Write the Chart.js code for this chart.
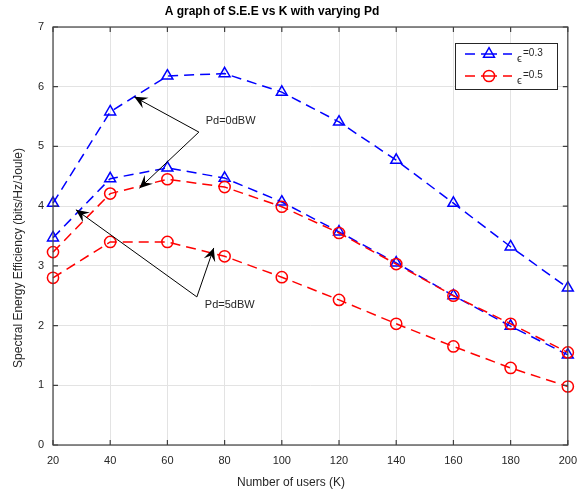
<!DOCTYPE html>
<html>
<head>
<meta charset="utf-8">
<script src="https://cdn.jsdelivr.net/npm/chart.js@4.4.1/dist/chart.umd.min.js"></script>
<style>
  html, body { margin: 0; padding: 0; background: #fff; }
  canvas { display: block; }
</style>
</head>
<body>
<canvas id="seeChart" width="586" height="493"></canvas>
<script>
// Number of users K
const kValues = [20, 40, 60, 80, 100, 120, 140, 160, 180, 200];

// Spectral energy efficiency
const seeEps03Pd0 = [4.05, 5.58, 6.18, 6.22, 5.91, 5.41, 4.77, 4.05, 3.32, 2.63];
const seeEps03Pd5 = [3.47, 4.46, 4.64, 4.47, 4.07, 3.57, 3.05, 2.50, 1.99, 1.51];
const seeEps05Pd0 = [3.23, 4.21, 4.45, 4.32, 3.99, 3.55, 3.03, 2.50, 2.03, 1.55];
const seeEps05Pd5 = [2.80, 3.40, 3.40, 3.16, 2.81, 2.43, 2.03, 1.65, 1.29, 0.98];

const xTicks = [20, 40, 60, 80, 100, 120, 140, 160, 180, 200];
const yTicks = [0, 1, 2, 3, 4, 5, 6, 7];

const legendLabels = ['=0.3', '=0.5'];

// text arrows, in data units: [label, labelX, labelY, fromX, fromY, [[toX, toY], ...]]
const arrowNotes = [
    ['Pd=0dBW', 73.4, 5.43, 71.0, 5.24, [[48.4, 5.83], [50.2, 4.30]]],
    ['Pd=5dBW', 73.1, 2.34, 70.3, 2.48, [[28.0, 3.94], [76.2, 3.30]]]
];

const BLUE = '#0000ff';
const RED = '#ff0000';
const FONT = '"Liberation Sans", Arial, Helvetica, sans-serif';

function pts(arr) {
    return kValues.map((k, i) => ({ x: k, y: arr[i] }));
}

function markerSize(marker) {
    return marker === 'triangle' ? 6.3 : 5.6;
}

function seriesStyle(color, marker) {
    return {
        borderColor: color,
        borderWidth: 1.5,
        borderDash: [10, 6],
        pointStyle: marker,
        pointRadius: markerSize(marker),
        pointBorderColor: color,
        pointBorderWidth: 1.5,
        pointBackgroundColor: 'rgba(0,0,0,0)',
        fill: false,
        clip: false,
        tension: 0
    };
}

function drawArrowHead(ctx, x0, y0, x1, y1) {
    const ang = Math.atan2(y1 - y0, x1 - x0);
    const L = 13, W = 6, back = 8;
    ctx.save();
    ctx.translate(x1, y1);
    ctx.rotate(ang);
    ctx.beginPath();
    ctx.moveTo(0, 0);
    ctx.lineTo(-L, -W);
    ctx.lineTo(-back, 0);
    ctx.lineTo(-L, W);
    ctx.closePath();
    ctx.fill();
    ctx.restore();
}

// box, inward ticks, arrows, legend and titles (MATLAB look)
const decor = {
    id: 'decor',
    afterDatasetsDraw(chart) {
        const ctx = chart.ctx;
        const a = chart.chartArea;
        const xs = chart.scales.x, ys = chart.scales.y;

        ctx.save();
        ctx.strokeStyle = '#404040';
        ctx.lineWidth = 1.2;
        ctx.strokeRect(a.left, a.top, a.right - a.left, a.bottom - a.top);
        ctx.beginPath();
        xTicks.forEach(v => {
            const px = xs.getPixelForValue(v);
            ctx.moveTo(px, a.bottom); ctx.lineTo(px, a.bottom - 5);
            ctx.moveTo(px, a.top); ctx.lineTo(px, a.top + 5);
        });
        yTicks.forEach(v => {
            const py = ys.getPixelForValue(v);
            ctx.moveTo(a.left, py); ctx.lineTo(a.left + 5, py);
            ctx.moveTo(a.right, py); ctx.lineTo(a.right - 5, py);
        });
        ctx.stroke();

        // arrows
        ctx.strokeStyle = '#000';
        ctx.fillStyle = '#000';
        ctx.lineWidth = 1;
        ctx.font = '11px ' + FONT;
        ctx.textBaseline = 'middle';
        ctx.textAlign = 'left';
        arrowNotes.forEach(n => {
            const fx = xs.getPixelForValue(n[3]), fy = ys.getPixelForValue(n[4]);
            n[5].forEach(t => {
                const tx = xs.getPixelForValue(t[0]), ty = ys.getPixelForValue(t[1]);
                ctx.beginPath();
                ctx.moveTo(fx, fy);
                ctx.lineTo(tx, ty);
                ctx.stroke();
                drawArrowHead(ctx, fx, fy, tx, ty);
            });
            ctx.fillStyle = '#262626';
            ctx.fillText(n[0], xs.getPixelForValue(n[1]), ys.getPixelForValue(n[2]));
            ctx.fillStyle = '#000';
        });

        // legend
        const lx = 455, ly = 43, lw = 102, lh = 46;
        ctx.fillStyle = '#fff';
        ctx.fillRect(lx, ly, lw, lh);
        ctx.strokeStyle = '#262626';
        ctx.lineWidth = 1;
        ctx.strokeRect(lx + 0.5, ly + 0.5, lw, lh);
        const rows = [[BLUE, 'triangle', 54], [RED, 'circle', 76]];
        rows.forEach((r, i) => {
            const y = r[2];
            ctx.strokeStyle = r[0];
            ctx.lineWidth = 1.5;
            ctx.beginPath();
            ctx.moveTo(465, y); ctx.lineTo(475, y);
            ctx.moveTo(481, y); ctx.lineTo(497, y);
            ctx.moveTo(503, y); ctx.lineTo(512, y);
            ctx.stroke();
            ctx.fillStyle = 'rgba(0,0,0,0)';
            Chart.helpers.drawPoint(ctx, {
                pointStyle: r[1],
                radius: markerSize(r[1]),
                borderWidth: 1.5,
                rotation: 0
            }, 489, y);
            ctx.fillStyle = '#262626';
            ctx.textAlign = 'left';
            ctx.textBaseline = 'alphabetic';
            ctx.font = '11px ' + FONT;
            ctx.fillText('\u03f5', 517, y + 8);
            ctx.font = '10px ' + FONT;
            ctx.fillText(legendLabels[i], 523, y + 2);
        });
        ctx.restore();
    },
    afterDraw(chart) {
        const ctx = chart.ctx;
        ctx.save();
        ctx.fillStyle = '#000';
        ctx.textAlign = 'center';
        ctx.textBaseline = 'middle';
        ctx.font = 'bold 12px ' + FONT;
        ctx.fillText('A graph of S.E.E vs K with varying Pd', 272, 12);

        ctx.fillStyle = '#262626';
        ctx.font = '12px ' + FONT;
        ctx.fillText('Number of users (K)', 291, 483);

        ctx.translate(19, 258);
        ctx.rotate(-Math.PI / 2);
        ctx.fillText('Spectral Energy Efficiency (bits/Hz/Joule)', 0, 0);
        ctx.restore();
    }
};

const ctx = document.getElementById('seeChart').getContext('2d');
new Chart(ctx, {
    type: 'line',
    data: {
        datasets: [
            Object.assign({ label: 'eps=0.5 Pd=5dBW', data: pts(seeEps05Pd5) }, seriesStyle(RED, 'circle')),
            Object.assign({ label: 'eps=0.5 Pd=0dBW', data: pts(seeEps05Pd0) }, seriesStyle(RED, 'circle')),
            Object.assign({ label: 'eps=0.3 Pd=5dBW', data: pts(seeEps03Pd5) }, seriesStyle(BLUE, 'triangle')),
            Object.assign({ label: 'eps=0.3 Pd=0dBW', data: pts(seeEps03Pd0) }, seriesStyle(BLUE, 'triangle'))
        ]
    },
    options: {
        responsive: false,
        animation: false,
        layout: { padding: { top: 27, right: 14, left: 0, bottom: 0 } },
        scales: {
            x: {
                type: 'linear',
                min: 20,
                max: 200,
                afterBuildTicks: s => { s.ticks = xTicks.map(v => ({ value: v })); },
                afterFit: s => { s.height = 48; },
                grid: { color: '#e3e3e3', drawTicks: false },
                border: { display: false },
                ticks: { padding: 9, color: '#262626', font: { size: 11, family: FONT } }
            },
            y: {
                min: 0,
                max: 7,
                afterBuildTicks: s => { s.ticks = yTicks.map(v => ({ value: v })); },
                afterFit: s => { s.width = 53; },
                grid: { color: '#e3e3e3', drawTicks: false },
                border: { display: false },
                ticks: { padding: 9, color: '#262626', font: { size: 11, family: FONT } }
            }
        },
        plugins: {
            legend: { display: false },
            tooltip: { enabled: false },
            title: { display: false }
        }
    },
    plugins: [decor]
});
</script>
</body>
</html>
